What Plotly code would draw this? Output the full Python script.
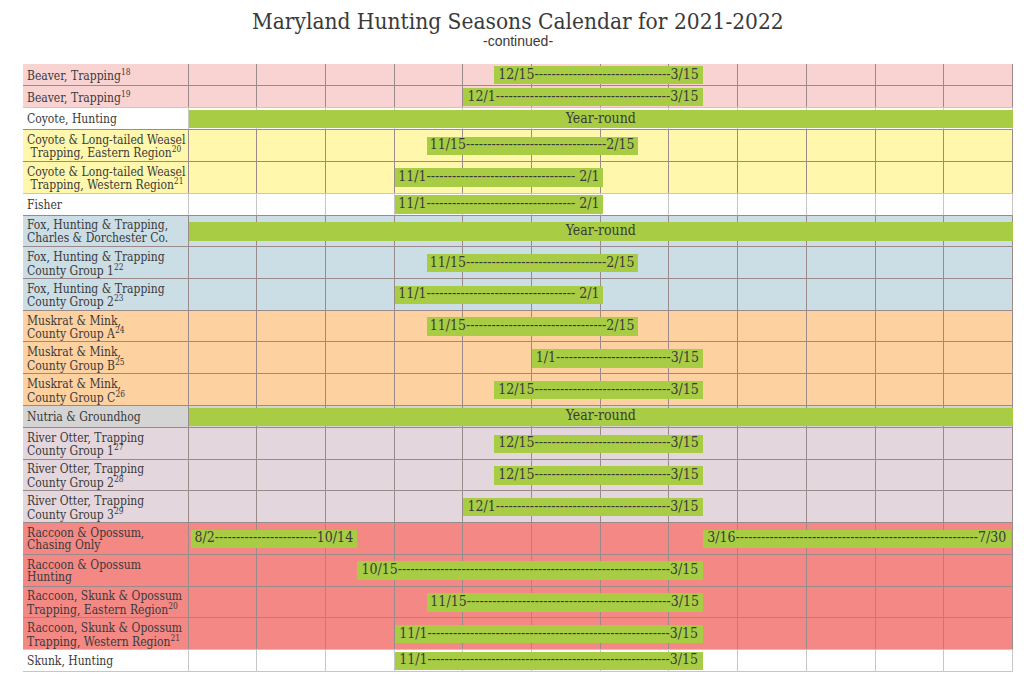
import plotly.graph_objects as go

TITLE = "Maryland Hunting Seasons Calendar for 2021-2022"
SUBTITLE = "-continued-"

# Row labels (first line, second line, footnote)
label_line1 = [
    "Beaver, Trapping", "Beaver, Trapping", "Coyote, Hunting",
    "Coyote & Long-tailed Weasel", "Coyote & Long-tailed Weasel", "Fisher",
    "Fox, Hunting & Trapping,", "Fox, Hunting & Trapping", "Fox, Hunting & Trapping",
    "Muskrat & Mink,", "Muskrat & Mink,", "Muskrat & Mink,",
    "Nutria & Groundhog",
    "River Otter, Trapping", "River Otter, Trapping", "River Otter, Trapping",
    "Raccoon & Opossum,", "Raccoon & Opossum", "Raccoon, Skunk & Opossum",
    "Raccoon, Skunk & Opossum", "Skunk, Hunting",
]
label_line2 = [
    "", "", "",
    "\u00a0Trapping, Eastern Region", "\u00a0Trapping, Western Region", "",
    "Charles & Dorchester Co.", "County Group 1", "County Group 2",
    "County Group A", "County Group B", "County Group C",
    "",
    "County Group 1", "County Group 2", "County Group 3",
    "Chasing Only", "Hunting", "Trapping, Eastern Region",
    "Trapping, Western Region", "",
]
label_sup = [
    "18", "19", "", "20", "21", "", "", "22", "23", "24", "25", "26", "",
    "27", "28", "29", "", "", "20", "21", "",
]
row_colors = [
    "#f9d2d2", "#f9d2d2", "#ffffff", "#fff7ab", "#fff7ab", "#ffffff",
    "#cbdde5", "#cbdde5", "#cbdde5", "#fdd1a0", "#fdd1a0", "#fdd1a0",
    "#d4d4d4", "#e4d6dd", "#e4d6dd", "#e4d6dd", "#f38884", "#f38884",
    "#f38884", "#f38884", "#ffffff",
]

# Seasons: row index, start (m/d), end (m/d); None = year-round
season_row = [0, 1, 2, 3, 4, 5, 6, 7, 8, 9, 10, 11, 12, 13, 14, 15, 16, 16, 17, 18, 19, 20]
season_start = ["12/15", "12/1", None, "11/15", "11/1", "11/1", None, "11/15", "11/1",
                "11/15", "1/1", "12/15", None, "12/15", "12/15", "12/1", "8/2", "3/16",
                "10/15", "11/15", "11/1", "11/1"]
season_end = ["3/15", "3/15", None, "2/15", " 2/1", " 2/1", None, "2/15", " 2/1",
              "2/15", "3/15", "3/15", None, "3/15", "3/15", "3/15", "10/14", "7/30",
              "3/15", "3/15", "3/15", "3/15"]
YEAR_ROUND_TEXT = "Year-round"

# Calendar columns: August 2021 .. July 2022
month_order = [8, 9, 10, 11, 12, 1, 2, 3, 4, 5, 6, 7]
month_days = {8: 31, 9: 30, 10: 31, 11: 30, 12: 31, 1: 31, 2: 28, 3: 31, 4: 30, 5: 31, 6: 30, 7: 31}

# ---------- layout geometry (page body adds an 8px offset) ----------
W, H = 1016, 685
ML, MR, MT, MB = 15, 11, 56, 21
LABEL_W = 2.409          # label column width in month units
SINGLE_H, DOUBLE_H = 22.0, 31.7
BAR_H = 18.5
GREEN = "#a8cd45"
TXT = "#3a3a3a"
SERIF = "DejaVu Serif Condensed, DejaVu Serif, Liberation Serif, serif"

n_rows = len(label_line1)
row_h = [SINGLE_H if label_line2[i] == "" else DOUBLE_H for i in range(n_rows)]
row_top = []
acc = 0.0
for h in row_h:
    row_top.append(acc)
    acc += h
total_h = acc
row_mid = [row_top[i] + row_h[i] / 2 for i in range(n_rows)]

px_per_month = (W - ML - MR) / (12 + LABEL_W)


def date_pos(s, is_end):
    m, d = [int(v) for v in s.strip().split("/")]
    idx = month_order.index(m)
    if is_end:
        return idx + d / month_days[m]
    return idx + (d - 1) / month_days[m]


# approximate glyph widths (em) for the date-label font
CW = {"/": 0.303, "-": 0.304, " ": 0.286}
def text_w(s, size):
    return sum(CW.get(c, 0.572) for c in s) * size

DATE_SIZE = 14

fig = go.Figure()

# ---------- table cells ----------
for i in range(n_rows):
    edges = [-LABEL_W] + list(range(13))
    line_c = "#c6c6c6" if row_colors[i] == "#ffffff" else "#9a8a8a"
    fig.add_trace(go.Bar(
        orientation="h",
        y=[row_mid[i]] * 13,
        x=[edges[k + 1] - edges[k] for k in range(13)],
        base=edges[:13],
        width=[row_h[i]] * 13,
        marker=dict(color=row_colors[i], line=dict(color=line_c, width=1)),
        hoverinfo="skip", showlegend=False,
    ))

# ---------- season bars ----------
sb_y, sb_base, sb_len, tx_x, tx_y, tx_t = [], [], [], [], [], []
for r, s, e in zip(season_row, season_start, season_end):
    if s is None:
        x0, x1 = 0.0, 12.0
        label = YEAR_ROUND_TEXT
    else:
        x0, x1 = date_pos(s, False), date_pos(e, True)
        bar_px = (x1 - x0) * px_per_month
        target = bar_px - 7
        n = int(round((target - text_w(s, DATE_SIZE) - text_w(e, DATE_SIZE)) / text_w("-", DATE_SIZE)))
        label = s + "-" * max(n, 1) + e
    sb_y.append(row_mid[r])
    sb_base.append(x0)
    sb_len.append(x1 - x0)
    tx_x.append((x0 + x1) / 2)
    tx_y.append(row_mid[r])
    tx_t.append(label)

fig.add_trace(go.Bar(
    orientation="h", y=sb_y, x=sb_len, base=sb_base, width=[BAR_H] * len(sb_y),
    marker=dict(color=GREEN, line=dict(width=0)),
    hoverinfo="skip", showlegend=False,
))
fig.add_trace(go.Scatter(
    x=tx_x, y=tx_y, text=tx_t, mode="text", textposition="middle center",
    textfont=dict(family=SERIF, size=DATE_SIZE, color=TXT),
    hoverinfo="skip", showlegend=False, cliponaxis=False,
))

# ---------- row labels ----------
annotations = []
LAB_SIZE = 12
for i in range(n_rows):
    l1, l2, sup = label_line1[i], label_line2[i], label_sup[i]
    sup_html = "<sup>" + sup + "</sup>" if sup else ""
    common = dict(x=-LABEL_W, y=row_mid[i], xref="x", yref="y", xanchor="left",
                  yanchor="middle", xshift=2, showarrow=False,
                  font=dict(family=SERIF, size=LAB_SIZE, color=TXT))
    if l2 == "":
        annotations.append(dict(text=l1 + sup_html, **common))
    else:
        annotations.append(dict(text=l1, yshift=6, **common))
        annotations.append(dict(text=l2 + sup_html, yshift=-6.5, **common))

plot_h = H - MT - MB
annotations.append(dict(
    x=0.5, y=1 + (MT - 13) / plot_h, xref="paper", yref="paper", xanchor="center",
    yanchor="middle", text=TITLE, showarrow=False,
    font=dict(family=SERIF, size=22.5, color=TXT),
))
annotations.append(dict(
    x=0.5, y=1 + (MT - 33) / plot_h, xref="paper", yref="paper", xanchor="center",
    yanchor="middle", text=SUBTITLE, showarrow=False,
    font=dict(family="Liberation Sans, Arial, sans-serif", size=14, color=TXT),
))

fig.update_layout(
    width=W, height=H, margin=dict(l=ML, r=MR, t=MT, b=MB),
    paper_bgcolor="white", plot_bgcolor="white",
    barmode="overlay", bargap=0,
    xaxis=dict(range=[-LABEL_W, 12], showgrid=False, zeroline=False,
               showticklabels=False, ticks="", fixedrange=True),
    yaxis=dict(range=[total_h, 0], showgrid=False, zeroline=False,
               showticklabels=False, ticks="", fixedrange=True),
    annotations=annotations,
    showlegend=False,
)

fig.write_html("out.html")
